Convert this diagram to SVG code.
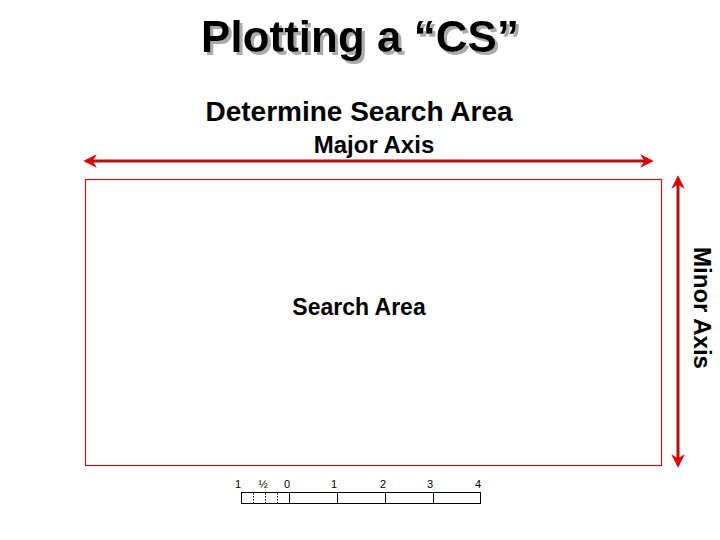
<svg xmlns="http://www.w3.org/2000/svg" width="720" height="540" viewBox="0 0 720 540">
<style>
.t{font-family:"Liberation Sans",Arial,sans-serif;fill:#000;text-anchor:middle;font-weight:bold}
.ax{stroke:#b01010;stroke-width:3;fill:none}
.sb{fill:#fff;stroke:#000;stroke-width:1}
.dl{stroke:#000;stroke-width:1;stroke-dasharray:1.5 1.5}
.sl{font-family:"Liberation Sans",Arial,sans-serif;font-size:11px;text-anchor:middle;fill:#000}
</style>
<defs>
<marker id="ah" viewBox="0 0 10 10" refX="8" refY="5" markerWidth="4.5" markerHeight="4.5" orient="auto-start-reverse" markerUnits="strokeWidth">
<path d="M0,0 L10,5 L0,10 L3,5 Z" fill="#e00000"/>
</marker>
<filter id="sh" x="-5%" y="-20%" width="110%" height="140%">
<feDropShadow dx="3" dy="3" stdDeviation="0.6" flood-color="#aaa" flood-opacity="1"/>
</filter>
</defs>
<rect width="720" height="540" fill="#fff"/>
<g id="title">
<text class="t" x="360" y="52" font-size="44" filter="url(#sh)">Plotting a “CS”</text>
</g>
<g id="subtitle"><text class="t" x="359" y="121" font-size="28">Determine Search Area</text></g>
<g id="major-label"><text class="t" x="374" y="153" font-size="24">Major Axis</text></g>
<g id="search-area">
<rect x="85.5" y="179.5" width="576" height="286" fill="#fff" stroke="#c01818" stroke-width="1.2"/>
<text class="t" x="359" y="315" font-size="23">Search Area</text>
</g>
<g id="minor-label"><text class="t" font-size="24" transform="translate(694,308) rotate(90)">Minor Axis</text></g>
<g id="connectors">
<line class="ax" x1="86" y1="161" x2="651" y2="161" marker-start="url(#ah)" marker-end="url(#ah)"/>
<line class="ax" x1="678" y1="178" x2="678" y2="465" marker-start="url(#ah)" marker-end="url(#ah)"/>
</g>
<g id="scale">
<rect class="sb" x="241.5" y="492.5" width="239" height="11"/>
<line stroke="#000" x1="289.5" y1="492" x2="289.5" y2="504"/>
<line stroke="#000" x1="337.5" y1="492" x2="337.5" y2="504"/>
<line stroke="#000" x1="385.5" y1="492" x2="385.5" y2="504"/>
<line stroke="#000" x1="433.5" y1="492" x2="433.5" y2="504"/>
<line class="dl" x1="253.5" y1="493" x2="253.5" y2="503"/>
<line class="dl" x1="265.5" y1="493" x2="265.5" y2="503"/>
<line class="dl" x1="277.5" y1="493" x2="277.5" y2="503"/>
<text class="sl" x="238" y="488">1</text>
<text class="sl" x="263" y="488">½</text>
<text class="sl" x="287" y="488">0</text>
<text class="sl" x="334" y="488">1</text>
<text class="sl" x="383" y="488">2</text>
<text class="sl" x="430" y="488">3</text>
<text class="sl" x="478" y="488">4</text>
</g>
</svg>
